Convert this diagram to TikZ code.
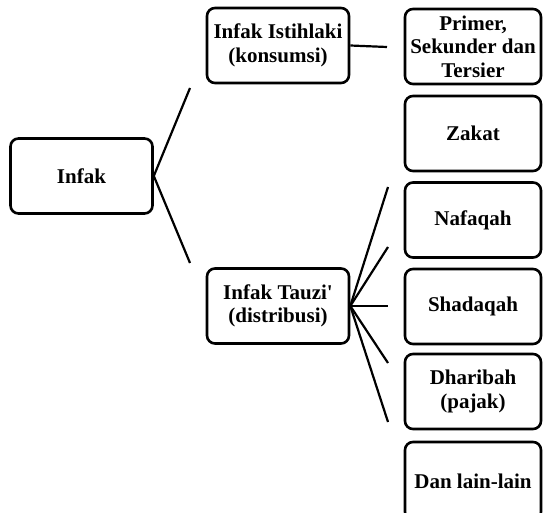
\documentclass[tikz,border=0pt]{standalone}
\usepackage{fontspec}
\setmainfont[Ligatures=TeXOff]{Liberation Serif}
\begin{document}
\begin{tikzpicture}[x=1pt, y=-1pt,
            b/.style={draw=black, line width=2.6pt, rounded corners=8pt, align=center,
            minimum width=142pt, minimum height=75pt, inner sep=2pt,
            font=\fontsize{21}{23.5}\selectfont\bfseries},
            r/.style={b, minimum width=136pt},
            l/.style={line width=2.2pt}]
            \useasboundingbox (0,0) rectangle (544,513);

            \node[b] (1) at (81.5,176) {Infak};
            \node[b] (2) at (278,45.5) {Infak Istihlaki\\(konsumsi)};
            \node[b] (3) at (278,306) {Infak Tauzi'\\(distribusi)};

            \node[r] (4) at (473,46.5) {Primer,\\Sekunder dan\\Tersier};
            \node[r] (5) at (473,133.5) {Zakat};
            \node[r] (6) at (473,220) {Nafaqah};
            \node[r] (7) at (473,306.5) {Shadaqah};
            \node[r] (8) at (473,391.5) {Dharibah\\(pajak)};
            \node[r, minimum height=78pt] (9) at (473,481) {Dan lain-lain};

            \coordinate (a2) at (190,88);
            \coordinate (a3) at (190,263);
            \coordinate (a4) at (387,47);
            \coordinate (a5) at (388,187);
            \coordinate (a6) at (388,247);
            \coordinate (a7) at (388,306);
            \coordinate (a8) at (388,363);
            \coordinate (a9) at (388,422);

            \draw[l] (1.east) to (a2);
            \draw[l] (1.east) to (a3);

            \draw[l] (2.east) to (a4);

            \draw[l] (3.east) to (a5);
            \draw[l] (3.east) to (a6);
            \draw[l] (3.east) to (a7);
            \draw[l] (3.east) to (a8);
            \draw[l] (3.east) to (a9);
        \end{tikzpicture}
\end{document}
